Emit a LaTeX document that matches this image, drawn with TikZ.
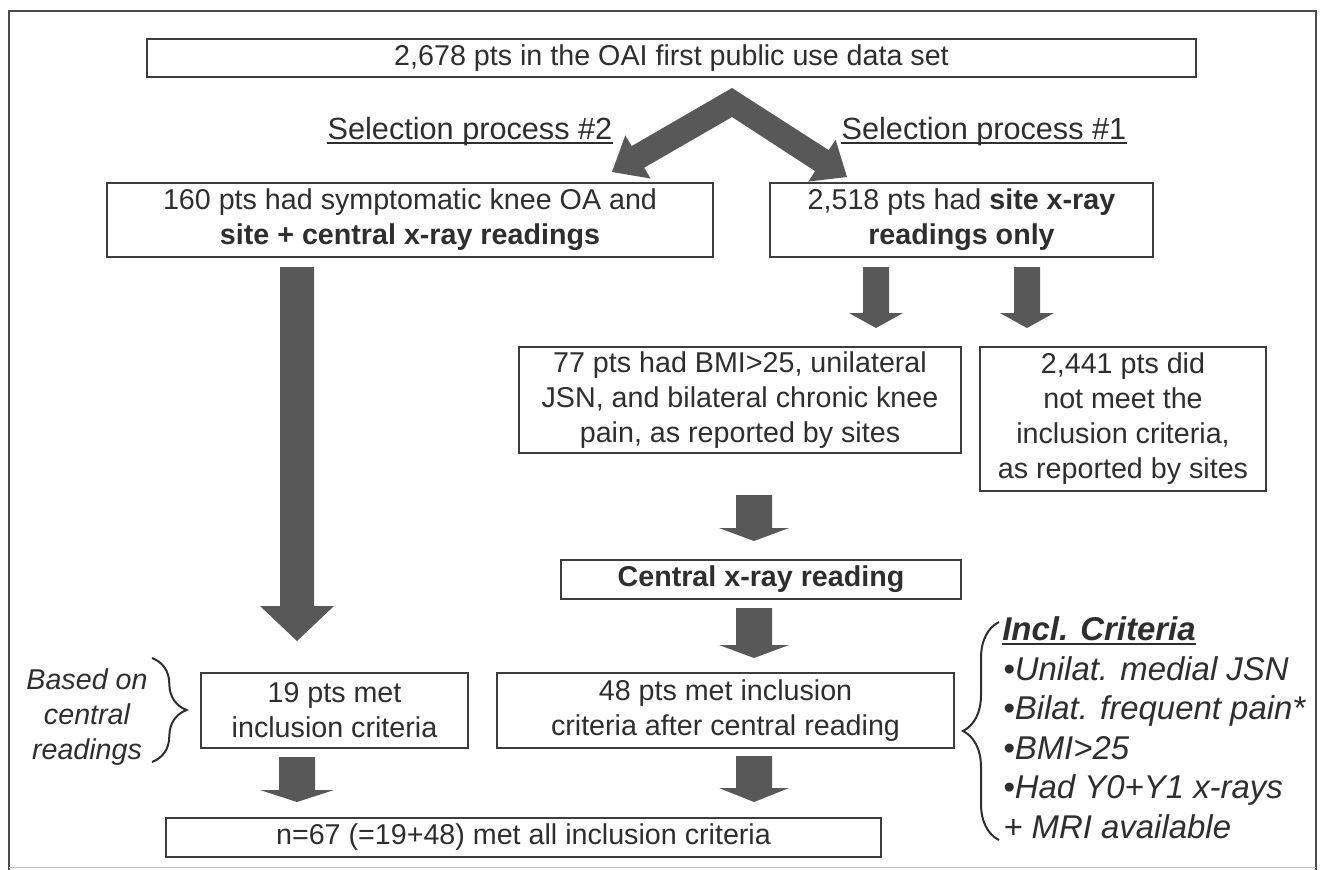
\documentclass[tikz,border=0pt]{standalone}
\usepackage{fontspec}
\setmainfont{Liberation Sans}
\usetikzlibrary{decorations.pathreplacing}
\definecolor{textcol}{HTML}{2E2E2E}
\definecolor{boxcol}{HTML}{3C3C3C}
\definecolor{arrowcol}{HTML}{585858}
\definecolor{framecol}{HTML}{4A4A4A}
\newcommand\mainfs{\fontsize{21.5}{26.25}\selectfont}
\newcommand\selfs{\fontsize{23}{27}\selectfont}
\newcommand\critfs{\fontsize{24.7}{29.5}\selectfont\itshape}
% cx, ytop, yhead, ytip, shaft half width, head half width (all px)
\newcommand\dnarrow[6]{%
  \fill[arrowcol] ({#1-#5},#2) -- ({#1+#5},#2) -- ({#1+#5},#3) -- ({#1+#6},#3)
    -- (#1,#4) -- ({#1-#6},#3) -- ({#1-#5},#3) -- cycle;}
\begin{document}
\begin{tikzpicture}[x=0.75pt,y=-0.75pt,
  box/.style={draw=boxcol, line width=1.7pt, inner sep=0pt, align=center,
              text=textcol, font=\mainfs},
  lbl/.style={inner sep=0pt, text=textcol, font=\selfs},
  crit/.style={inner sep=0pt, text=textcol, font=\critfs},
  side/.style={inner sep=0pt, text=textcol, align=center, font=\mainfs\itshape},
  ulin/.style={draw=textcol, line width=1.4pt},
  bracestyle/.style={draw=textcol, line width=1.5pt, decorate}]
\useasboundingbox (0,0) rectangle (1324,869);
\fill[white] (0,0) rectangle (1324,869);
% frame
\draw[framecol, line width=2.2pt] (9,870) -- (9,11) -- (1316,11) -- (1316,870);
\draw[black!25, line width=0.8pt] (9,867.5) -- (1316,867.5);

% boxes
\node[box, minimum width=786.75pt, minimum height=28.5pt] (top) at (671.5,58)
  {2,678 pts in the OAI first public use data set};
\node[box, minimum width=454.5pt, minimum height=55.5pt] (b160) at (410,220)
  {160 pts had symptomatic knee OA and\\ \textbf{site + central x-ray readings}};
\node[box, minimum width=287.25pt, minimum height=55.5pt] (b2518) at (961.5,220)
  {2,518 pts had \textbf{site x-ray}\\ \textbf{readings only}};
\node[box, minimum width=331.5pt, minimum height=79.5pt] (b77) at (740,400)
  {77 pts had BMI>25, unilateral\\ JSN, and bilateral chronic knee\\ pain, as reported by sites};
\node[box, minimum width=214.5pt, minimum height=108pt] (b2441) at (1123,419)
  {2,441 pts did\\ not meet the\\ inclusion criteria,\\ as reported by sites};
\node[box, minimum width=300pt, minimum height=29.25pt] (central) at (761,579.5)
  {\textbf{Central x-ray reading}};
\node[box, minimum width=342.75pt, minimum height=56.25pt] (b48) at (725.5,710.5)
  {48 pts met inclusion\\ criteria after central reading};
\node[box, minimum width=200.25pt, minimum height=56.25pt] (b19) at (334.5,710.5)
  {19 pts met\\ inclusion criteria};
\node[box, minimum width=536.25pt, minimum height=29.25pt] (final) at (523.5,837.5)
  {n=67 (=19+48) met all inclusion criteria};

% selection labels
\node[lbl, anchor=base] (sel2) at (470,139) {Selection process \#2};
\node[lbl, anchor=base] (sel1) at (984,139) {Selection process \#1};
\draw[ulin] ([yshift=-3.2pt]sel2.base west) -- ([yshift=-3.2pt]sel2.base east);
\draw[ulin] ([yshift=-3.2pt]sel1.base west) -- ([yshift=-3.2pt]sel1.base east);

% chevron arrow
\fill[arrowcol] (732,88) -- (631.6,146.1) -- (625.3,135.3) -- (612,172)
  -- (650.5,178.5) -- (644.2,167.7) -- (732,117) -- (815.1,171.1)
  -- (808.3,181.6) -- (847,177) -- (835.6,139.7) -- (828.7,150.1) -- cycle;

% block arrows
\dnarrow{297}{267}{606}{641}{17}{37}
\dnarrow{876}{267}{313}{328}{13}{27}
\dnarrow{1027}{267}{313}{328}{13}{27}
\dnarrow{754}{495}{528}{541}{18}{35}
\dnarrow{754}{608}{645}{658}{18}{35}
\dnarrow{754}{756}{788}{802}{18}{35}
\dnarrow{297}{757}{790}{802}{18}{37}

% left side note and brace
\node[side] (based) at (87,717.5) {Based on\\ central\\ readings};
\draw[bracestyle, decoration={brace, amplitude=26pt}] (152,658) -- (152,762);

% right criteria and brace
\draw[bracestyle, decoration={brace, amplitude=27pt}] (999,840) -- (999,622);
\node[crit, anchor=base west] (crith) at (1002,640) {\textbf{Incl. Criteria}};
\draw[ulin] ([yshift=-2.8pt]crith.base west) -- ([yshift=-2.8pt]crith.base east);
\node[crit, anchor=base west] (c1) at (1003,680.5) {•Unilat. medial JSN};
\node[crit, anchor=base west] (c2) at (1003,719.9) {•Bilat. frequent pain*};
\node[crit, anchor=base west] (c3) at (1003,759.3) {•BMI>25};
\node[crit, anchor=base west] (c4) at (1003,798.7) {•Had Y0+Y1 x-rays};
\node[crit, anchor=base west] (c5) at (1003,838.1) {+ MRI available};
\end{tikzpicture}
\end{document}
